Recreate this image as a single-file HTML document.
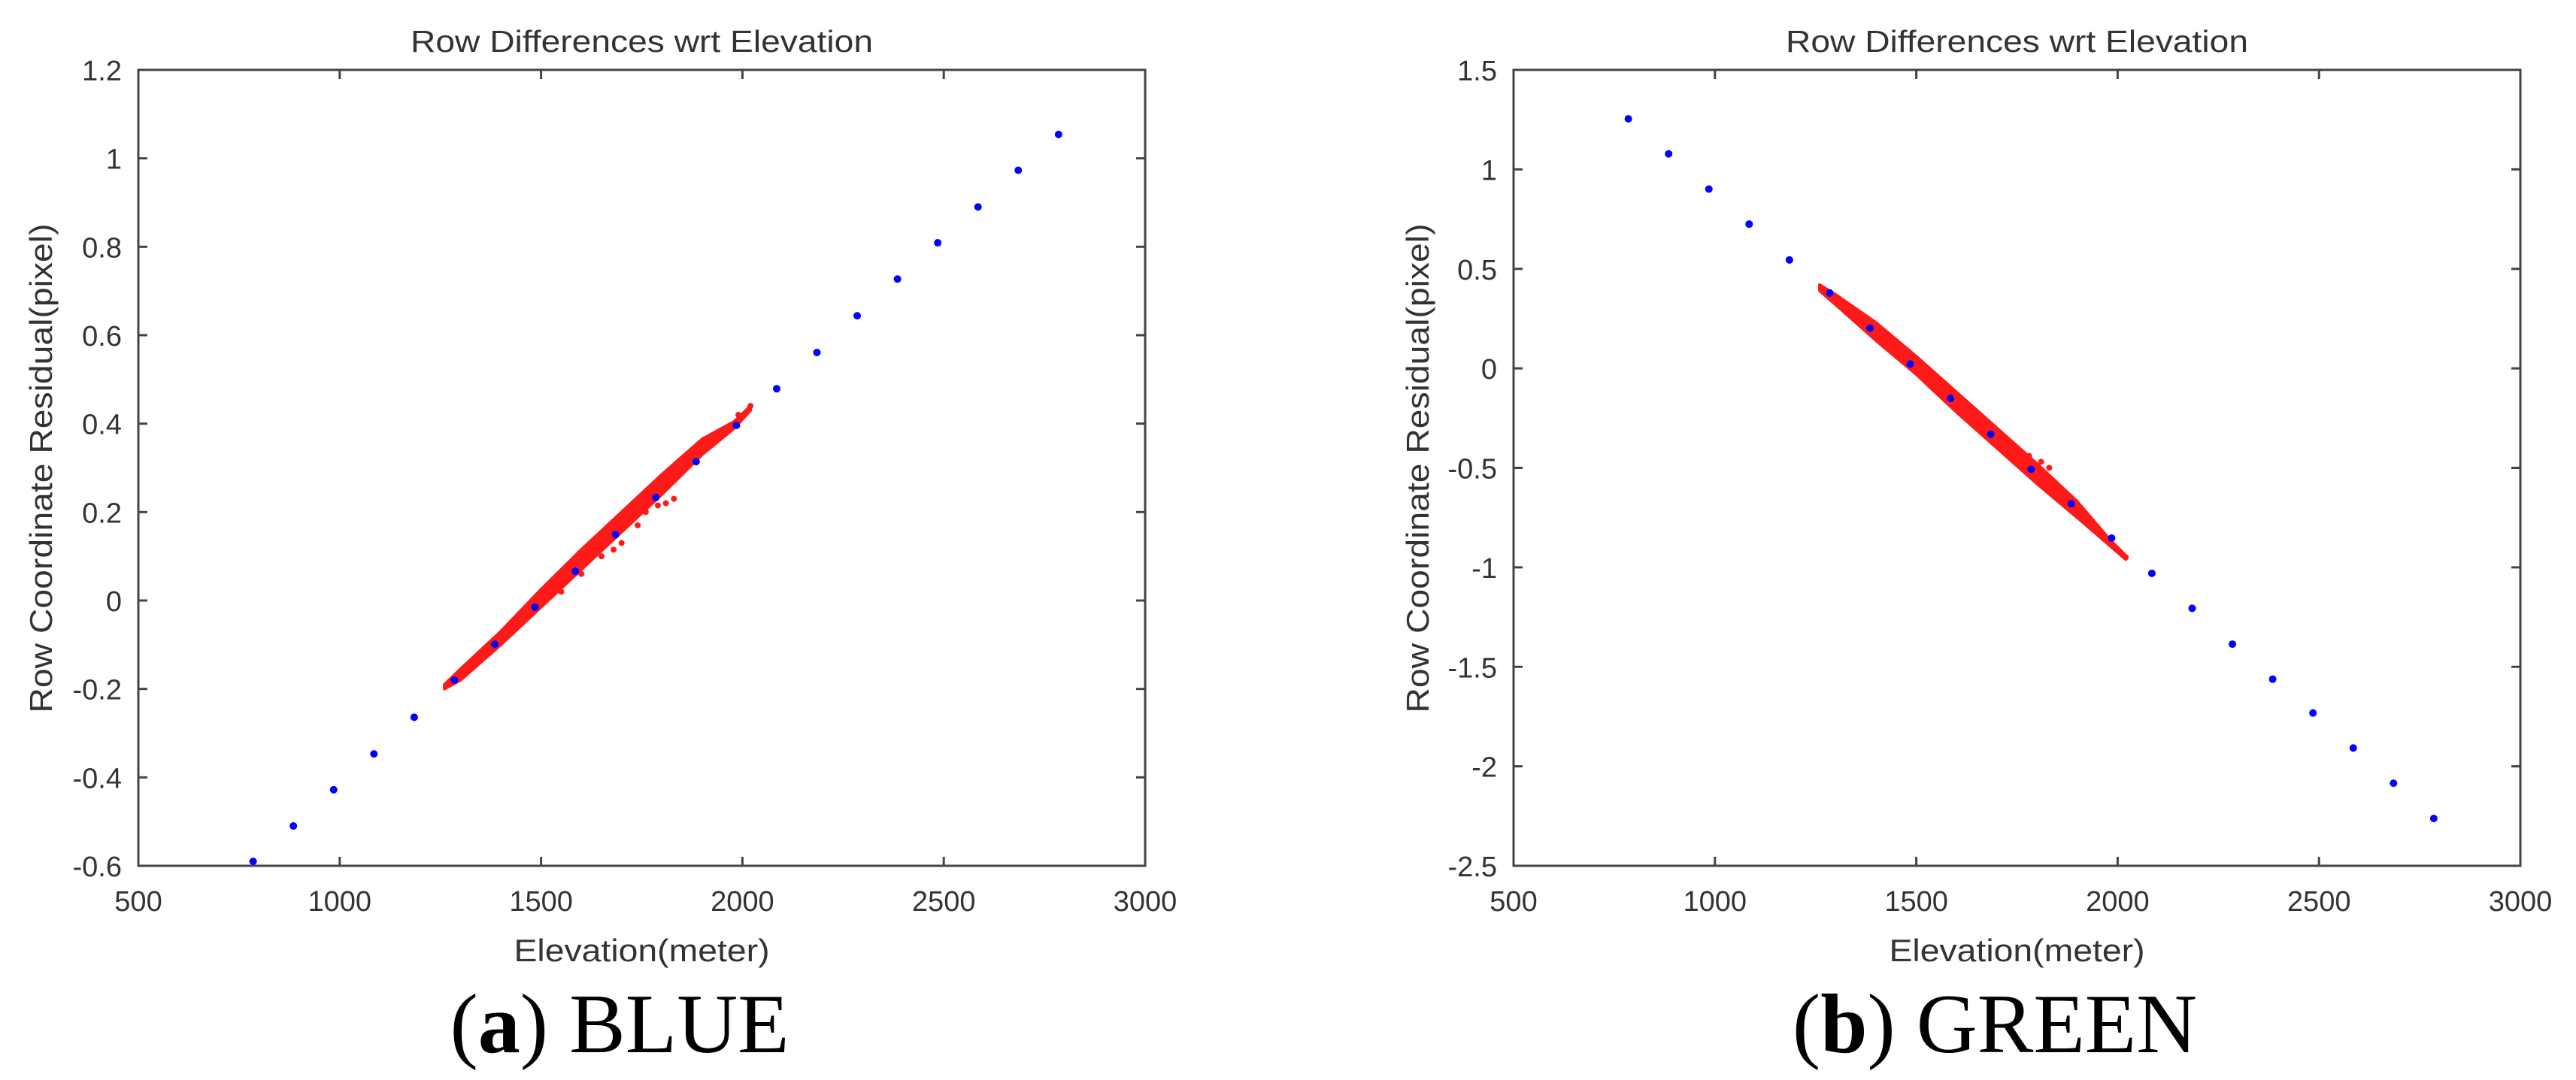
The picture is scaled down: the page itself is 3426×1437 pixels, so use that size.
<!DOCTYPE html>
<html><head><meta charset="utf-8"><style>
html,body{margin:0;padding:0;background:#fff;}
svg{display:block;}
text{font-family:"Liberation Sans",sans-serif;fill:#333;}
.cap{font-family:"Liberation Serif",serif;fill:#000;}
</style></head><body>
<svg id="fig" width="3426" height="1437" viewBox="0 0 3426 1437" xmlns="http://www.w3.org/2000/svg"></svg>
<script>
// ---------- data ----------
const elevations = [785,885,985,1085,1185,1285,1385,1485,1585,1685,1785,1885,1985,2085,2185,2285,2385,2485,2585,2685,2785];
const blueResidA = [-0.59,-0.51,-0.428,-0.347,-0.264,-0.18,-0.099,-0.015,0.066,0.149,0.233,0.314,0.396,0.479,0.561,0.644,0.727,0.809,0.890,0.973,1.054];
const blueResidB = [1.254,1.078,0.901,0.725,0.545,0.379,0.202,0.022,-0.151,-0.331,-0.507,-0.680,-0.853,-1.030,-1.206,-1.386,-1.562,-1.732,-1.908,-2.085,-2.262];
const bandElev = [1260,1300,1400,1500,1600,1700,1800,1900,1980,2020];
const bandUpperA = [-0.19,-0.155,-0.07,0.025,0.115,0.20,0.285,0.365,0.405,0.44];
const bandLowerA = [-0.20,-0.18,-0.10,-0.015,0.07,0.155,0.24,0.33,0.39,0.43];
const bandUpperB = [0.42,0.37,0.23,0.06,-0.12,-0.30,-0.48,-0.67,-0.86,-0.94];
const bandLowerB = [0.39,0.32,0.14,-0.03,-0.22,-0.40,-0.58,-0.75,-0.89,-0.96];
const outlierElevA = [1830,1810,1990,2020,1700,1760,1650,1600,1550,1740,1790,1680];
const outlierResA = [0.23,0.22,0.42,0.44,0.13,0.2,0.1,0.06,0.02,0.17,0.215,0.115];
const outlierElevB = [1830,1810,2020,1760,1700,1560,1620,1660,1730,1780];
const outlierResB = [-0.50,-0.47,-0.95,-0.43,-0.33,-0.10,-0.20,-0.25,-0.38,-0.44];
const xTicks = [500,1000,1500,2000,2500,3000];
const yTicksA = [-0.6,-0.4,-0.2,0,0.2,0.4,0.6,0.8,1,1.2];
const yTicksB = [-2.5,-2,-1.5,-1,-0.5,0,0.5,1,1.5];

const NS = "http://www.w3.org/2000/svg";
const svg = document.getElementById('fig');
function mk(tag, attrs, parent){
  const e = document.createElementNS(NS, tag);
  for (const k in attrs) e.setAttribute(k, attrs[k]);
  (parent||svg).appendChild(e);
  return e;
}
function fmt(v){ return String(Math.round(v*10)/10); }

function panel(cfg){
  const g = mk('g', {});
  
  
  const L=cfg.L, R=cfg.R, T=93, B=1152;
  const xs = v => L + (v-500)/2500*(R-L);
  const ys = v => B - (v-cfg.ymin)/(cfg.ymax-cfg.ymin)*(B-T);
  let pts = [];
  for (let i=0;i<bandElev.length;i++) pts.push(xs(bandElev[i])+','+ys(cfg.up[i]));
  for (let i=bandElev.length-1;i>=0;i--) pts.push(xs(bandElev[i])+','+ys(cfg.lo[i]));
  const band = mk('polygon', {points: pts.join(' '), fill:'#ff1a1a', stroke:'#ff1a1a', 'stroke-width':4, 'stroke-linejoin':'round'}, g);
  
  
  for (let i=0;i<cfg.ox.length;i++){
    const c = mk('circle', {cx: xs(cfg.ox[i]), cy: ys(cfg.oy[i]), r:4, fill:'#ff1a1a'}, g);
    
    
  }
  for (let i=0;i<elevations.length;i++){
    const c = mk('circle', {cx: xs(elevations[i]), cy: ys(cfg.blue[i]), r:5, fill:'#0000ff'}, g);
    
    
  }
  const box = mk('rect', {x:L, y:T, width:R-L, height:B-T, fill:'none', stroke:'#444', 'stroke-width':3}, g);
  
  
  xTicks.forEach(v=>{
    const x = xs(v);
    mk('line', {x1:x, y1:B, x2:x, y2:B-12, stroke:'#444','stroke-width':3}, g);
    mk('line', {x1:x, y1:T, x2:x, y2:T+12, stroke:'#444','stroke-width':3}, g);
    const t = mk('text', {x:x, y:B+60, 'font-size':38, 'text-anchor':'middle'}, g);
    t.textContent = v;
    
    
  });
  cfg.yt.forEach(v=>{
    const y = ys(v);
    mk('line', {x1:L, y1:y, x2:L+12, y2:y, stroke:'#444','stroke-width':3}, g);
    mk('line', {x1:R, y1:y, x2:R-12, y2:y, stroke:'#444','stroke-width':3}, g);
    const t = mk('text', {x:L-22, y:y+14, 'font-size':38, 'text-anchor':'end'}, g);
    t.textContent = fmt(v);
    
    
  });
  const cx = (L+R)/2;
  const title = mk('text', {x:cx, y:69, 'font-size':41, 'text-anchor':'middle', textLength:615, lengthAdjust:'spacingAndGlyphs'}, g);
  title.textContent = 'Row Differences wrt Elevation';
  
  
  const xl = mk('text', {x:cx, y:1279, 'font-size':42, 'text-anchor':'middle', textLength:340, lengthAdjust:'spacingAndGlyphs'}, g);
  xl.textContent = 'Elevation(meter)';
  
  
  const yl = mk('text', {x:0, y:0, 'font-size':42, 'text-anchor':'middle', textLength:651, lengthAdjust:'spacingAndGlyphs', transform:'translate('+(cfg.ylx)+',623) rotate(-90)'}, g);
  yl.textContent = 'Row Coordinate Residual(pixel)';
  
  
  const cap = mk('text', {x:cfg.capx, y:1400, 'font-size':112, 'text-anchor':'middle', class:'cap'}, g);
  cap.innerHTML = '(<tspan font-weight="bold">' + cfg.letter + '</tspan>) ' + cfg.capText;
  
  
}

panel({name:'panel-a-blue', L:184, R:1523, ymin:-0.6, ymax:1.2, yt:yTicksA, blue:blueResidA, up:bandUpperA, lo:bandLowerA, ox:outlierElevA, oy:outlierResA, ylx:69, capx:824, letter:'a', capText:'BLUE'});
panel({name:'panel-b-green', L:2013, R:3352, ymin:-2.5, ymax:1.5, yt:yTicksB, blue:blueResidB, up:bandUpperB, lo:bandLowerB, ox:outlierElevB, oy:outlierResB, ylx:1900, capx:2653, letter:'b', capText:'GREEN'});
</script>
</body></html>
